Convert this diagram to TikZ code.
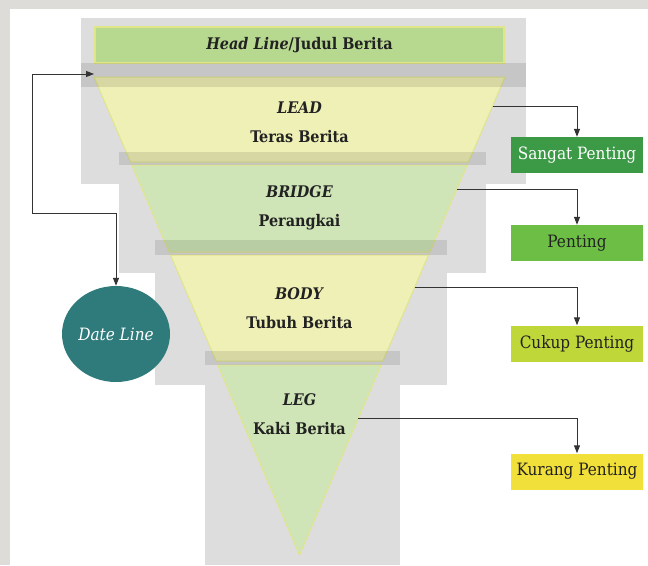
\documentclass[tikz,border=0pt]{standalone}
\usepackage{fontspec}
\setmainfont{DejaVu Serif Condensed}
\usetikzlibrary{positioning,arrows.meta,shapes.geometric}

\definecolor{frame}{HTML}{DDDCD8}
\definecolor{greyblock}{HTML}{DDDDDD}
\definecolor{ink}{HTML}{222222}
\definecolor{wire}{HTML}{333333}
\definecolor{funnelyellow}{HTML}{EFF0B6}
\definecolor{funnelgreen}{HTML}{CFE5B7}
\definecolor{rim}{HTML}{E0E58A}
\definecolor{headgreen}{HTML}{B6D88F}
\definecolor{datelinetl}{HTML}{2F7B7B}
\definecolor{sangatgreen}{HTML}{3C9A47}
\definecolor{pentinggreen}{HTML}{6DBE44}
\definecolor{cukupgreen}{HTML}{C0D73A}
\definecolor{kurangyellow}{HTML}{F1DF3A}

\begin{document}
\begin{tikzpicture}[x=1pt, y=-1pt,
  rankbox/.style={rectangle, minimum width=132pt, minimum height=36pt, inner sep=0pt, font=\fontsize{17}{20}\selectfont},
  seg/.style={align=center, text=ink, font=\bfseries\fontsize{16}{29}\selectfont},
  link/.style={draw=wire, line width=1pt, -{Triangle[length=8pt,width=6pt]}}
]
\useasboundingbox (0,0) rectangle (648,565);
\fill[frame] (0,0) rectangle (648,565);
\fill[white] (10,9) rectangle (648,565);

% grey blocks behind the funnel
\fill[greyblock] (81,18) rectangle (526,184);
\fill[greyblock] (119,152) rectangle (486,273);
\fill[greyblock] (155,240) rectangle (447,385);
\fill[greyblock] (205,351) rectangle (400,565);

% funnel parts
\filldraw[fill=funnelyellow, draw=rim, line width=1pt] (94,77) -- (505,77) -- (468.5,162) -- (130.5,162) -- cycle;
\filldraw[fill=funnelgreen, draw=rim, line width=1pt] (131.8,165) -- (467.2,165) -- (429.8,252) -- (169.2,252) -- cycle;
\filldraw[fill=funnelyellow, draw=rim, line width=1pt] (170.5,255) -- (428.5,255) -- (382.9,361) -- (216.1,361) -- cycle;
\filldraw[fill=funnelgreen, draw=rim, line width=1pt] (217.8,365) -- (381.2,365) -- (299.5,555) -- cycle;

% head line bar
\node[rectangle, fill=headgreen, draw=rim, line width=1.2pt, minimum width=409pt, minimum height=36pt, inner sep=0pt, text=ink, font=\bfseries\fontsize{16}{19}\selectfont] (headline) at (299.5,45) {\textit{Head Line}/Judul Berita};

% darker strips
\fill[black, opacity=0.1] (81,63) rectangle (526,87);
\fill[black, opacity=0.1] (119,152) rectangle (486,165);
\fill[black, opacity=0.1] (155,240) rectangle (447,255);
\fill[black, opacity=0.1] (205,351) rectangle (400,365);

% labels
\node[seg] (lead) at (299.5,122) {\textit{LEAD}\\Teras Berita};
\node[seg] (bridge) at (299.5,208) {\textit{BRIDGE}\\Perangkai};
\node[seg] (body) at (299.5,308) {\textit{BODY}\\Tubuh Berita};
\node[seg] (leg) at (299.5,414) {\textit{LEG}\\Kaki Berita};

% importance
\node[rankbox, fill=sangatgreen, text=white] (sangat) at (577,155) {Sangat Penting};
\node[rankbox, fill=pentinggreen, text=ink] (penting) at (577,243) {Penting};
\node[rankbox, fill=cukupgreen, text=ink] (cukup) at (577,343.5) {Cukup Penting};
\node[rankbox, fill=kurangyellow, text=ink] (kurang) at (577,471.5) {Kurang Penting};

\node[ellipse, fill=datelinetl, minimum width=108pt, minimum height=96pt, inner sep=0pt, text=white, font=\itshape\fontsize{17}{20}\selectfont] (dateline) at (116,334) {Date Line};

\coordinate (lead-e) at (492.5,106);
\coordinate (bridge-e) at (456.8,189);
\coordinate (body-e) at (414.7,287);
\coordinate (leg-e) at (358.4,418);
\coordinate (head-w) at (94,74);
\coordinate (bend) at (32,213);

\draw[link] (lead-e) -| (sangat);
\draw[link] (bridge-e) -| (penting);
\draw[link] (body-e) -| (cukup);
\draw[link] (leg-e) -| (kurang);
\draw[link, {Triangle[length=8pt,width=6pt]}-{Triangle[length=8pt,width=6pt]}] (head-w) -| (bend) -| (dateline);

\end{tikzpicture}
\end{document}
